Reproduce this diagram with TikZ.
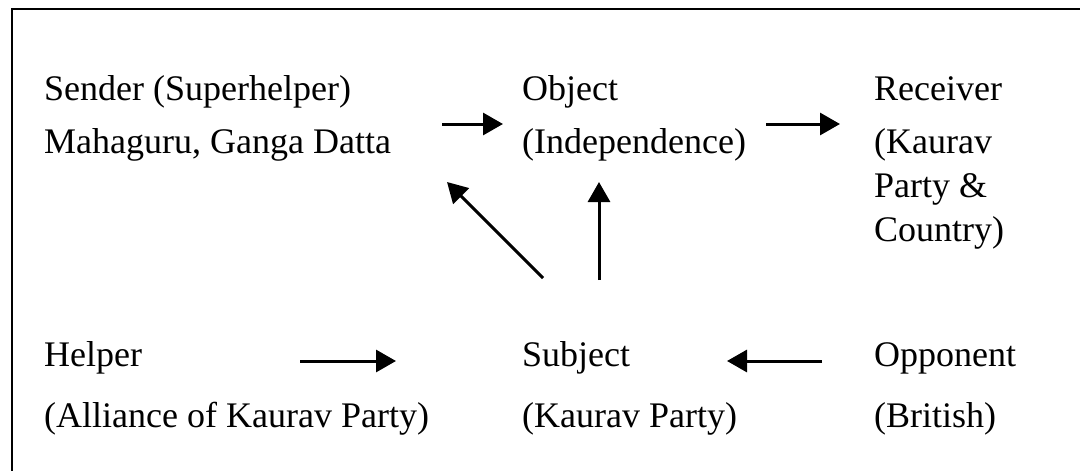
\documentclass[tikz,border=0pt]{standalone}
\usepackage{fontspec}
\setmainfont{Liberation Serif}
\usetikzlibrary{arrows.meta}
\begin{document}
\begin{tikzpicture}[x=1pt,y=-1pt,
  lbl/.style={anchor=base west,inner sep=0pt,font=\fontsize{36}{43}\selectfont},
  conn/.style={line width=3pt,-{Triangle[length=20pt,width=22pt]}},
  frame/.style={line width=2.2pt}]
\useasboundingbox (0,0) rectangle (1080,471);
% frame (top and left edges visible)
\coordinate (fa) at (12,471);
\coordinate (fb) at (12,9);
\coordinate (fc) at (1080,9);
\draw[frame] (fa) -- (fb) -- (fc);
% left column
\node[lbl] (sender) at (44,100) {Sender (Superhelper)};
\node[lbl] (sender2) at (44,153) {Mahaguru, Ganga Datta};
\node[lbl] (helper) at (44,366) {Helper};
\node[lbl] (helper2) at (44,427) {(Alliance of Kaurav Party)};
% middle column
\node[lbl] (object) at (522,100) {Object};
\node[lbl] (object2) at (522,153) {(Independence)};
\node[lbl] (subject) at (522,366) {Subject};
\node[lbl] (subject2) at (522,427) {(Kaurav Party)};
% right column
\node[lbl] (receiver) at (874,100) {Receiver};
\node[lbl] (receiver2) at (874,153) {(Kaurav};
\node[lbl] (receiver3) at (874,197) {Party \&};
\node[lbl] (receiver4) at (874,241) {Country)};
\node[lbl] (opponent) at (874,366) {Opponent};
\node[lbl] (opponent2) at (874,427) {(British)};
% arrow end points
\coordinate (a1s) at (442,124);
\coordinate (a1e) at (503,124);
\coordinate (a2s) at (766,124);
\coordinate (a2e) at (840,124);
\coordinate (a3s) at (300,361);
\coordinate (a3e) at (396,361);
\coordinate (a4s) at (822,361);
\coordinate (a4e) at (727,361);
\coordinate (a5s) at (543,278);
\coordinate (a5e) at (447,182);
\coordinate (a6s) at (599,280);
\coordinate (a6e) at (599,182);
\draw[conn] (a1s) -- (a1e);
\draw[conn] (a2s) -- (a2e);
\draw[conn] (a3s) -- (a3e);
\draw[conn] (a4s) -- (a4e);
\draw[conn] (a5s) -- (a5e);
\draw[conn] (a6s) -- (a6e);
\end{tikzpicture}
\end{document}
